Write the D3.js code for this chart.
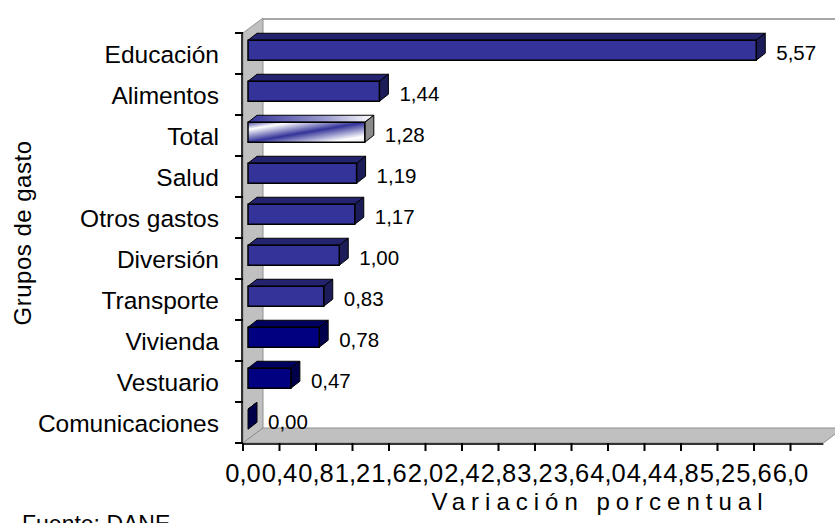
<!doctype html>
<html lang="es">
<head>
<meta charset="utf-8">
<title>Variación porcentual por grupos de gasto</title>
<script src="https://cdnjs.cloudflare.com/ajax/libs/d3/7.8.5/d3.min.js"></script>
<style>
  body { margin: 0; background: #fff; }
  svg { display: block; font-family: "Liberation Sans", Arial, sans-serif; }
</style>
</head>
<body>
<svg id="chart" width="835" height="523"></svg>
<script>
// data
const categories = ["Educación", "Alimentos", "Total", "Salud", "Otros gastos",
                    "Diversión", "Transporte", "Vivienda", "Vestuario", "Comunicaciones"];
const values = [5.57, 1.44, 1.28, 1.19, 1.17, 1.00, 0.83, 0.78, 0.47, 0.00];
const xTicks = [0, 0.4, 0.8, 1.2, 1.6, 2.0, 2.4, 2.8, 3.2, 3.6, 4.0, 4.4, 4.8, 5.2, 5.6, 6.0];
const xTitle = "Variación porcentual";
const yTitle = "Grupos de gasto";
const source = "Fuente: DANE";

const svg = d3.select("#chart");
const fmt = v => d3.format(".1f")(v).replace(".", ",");
const fmtLabel = v => d3.format(".2f")(v).replace(".", ",");

// front plane of the 3d box
const x = d3.scaleLinear().domain([0, 6]).range([243, 790.5]);
const y = d3.scaleBand().domain(categories).range([33, 443]);
const xEnd = x(6.36);
const DX = 20, DY = -15;        // depth of walls
const bx = 5, by = -3.75;       // bar front face offset
const ox = 9, oy = -7;          // bar depth

const pTop = y.range()[0], pBottom = y.range()[1], pLeft = x(0);

// back wall
svg.append("polygon")
  .attr("points", [[pLeft + DX, pTop + DY], [835, pTop + DY], [835, pBottom + DY], [pLeft + DX, pBottom + DY]].join(" "))
  .attr("fill", "#fff");
svg.append("line")
  .attr("x1", pLeft + DX).attr("x2", 835).attr("y1", pTop + DY + 1).attr("y2", pTop + DY + 1)
  .attr("stroke", "#a8a8a8").attr("stroke-width", 2);

// left wall
svg.append("polygon")
  .attr("points", [[pLeft, pTop], [pLeft + DX, pTop + DY], [pLeft + DX, pBottom + DY], [pLeft, pBottom]].join(" "))
  .attr("fill", "#c0c0c0").attr("stroke", "#909090").attr("stroke-width", 1);

// floor
svg.append("polygon")
  .attr("points", [[pLeft, pBottom], [pLeft + DX, pBottom + DY], [xEnd + DX, pBottom + DY], [xEnd, pBottom]].join(" "))
  .attr("fill", "#c0c0c0").attr("stroke", "#909090").attr("stroke-width", 1);

// axis lines
svg.append("line")
  .attr("x1", pLeft - 1).attr("x2", pLeft - 1).attr("y1", pTop).attr("y2", pBottom + 1)
  .attr("stroke", "#333").attr("stroke-width", 2);
svg.append("line")
  .attr("x1", pLeft - 1).attr("x2", xEnd).attr("y1", pBottom + 1).attr("y2", pBottom + 1)
  .attr("stroke", "#333").attr("stroke-width", 2);

// y ticks
const yTickPos = categories.map(c => y(c)).concat([pBottom]);
svg.selectAll(".ytick").data(yTickPos).join("line")
  .attr("x1", pLeft - 8).attr("x2", pLeft).attr("y1", d => d).attr("y2", d => d)
  .attr("stroke", "#000").attr("stroke-width", 2);

// x ticks
svg.selectAll(".xtick").data(xTicks).join("line")
  .attr("x1", d => x(d)).attr("x2", d => x(d)).attr("y1", pBottom).attr("y2", pBottom + 8)
  .attr("stroke", "#000").attr("stroke-width", 2);

svg.selectAll(".xlab").data(xTicks).join("text")
  .attr("x", d => x(d)).attr("y", 482)
  .attr("text-anchor", "middle").attr("font-size", 25.5)
  .text(fmt);

// category labels
svg.selectAll(".ylab").data(categories).join("text")
  .attr("x", 219).attr("y", d => y(d) + y.bandwidth() / 2 + 9)
  .attr("text-anchor", "end").attr("font-size", 24.5)
  .text(d => d);

// gradient for Total
const defs = svg.append("defs");
const g = defs.append("linearGradient").attr("id", "gTotal")
  .attr("x1", "0").attr("y1", "0").attr("x2", "1").attr("y2", "1");
[["0%", "#4a4aa8"], ["18%", "#ffffff"], ["50%", "#333399"], ["85%", "#ffffff"], ["100%", "#e8e8f0"]]
  .forEach(s => g.append("stop").attr("offset", s[0]).attr("stop-color", s[1]));
const gt = defs.append("linearGradient").attr("id", "gTotalTop")
  .attr("x1", "0").attr("y1", "0").attr("x2", "1").attr("y2", "0");
[["0%", "#333399"], ["60%", "#9999cc"], ["100%", "#ffffff"]]
  .forEach(s => gt.append("stop").attr("offset", s[0]).attr("stop-color", s[1]));

function faces(c) {
  if (c === "Total") return { front: "url(#gTotal)", top: "url(#gTotalTop)", side: "#8a8a8a" };
  if (c === "Vivienda" || c === "Vestuario" || c === "Comunicaciones")
    return { front: "#000080", top: "#00005e", side: "#00004a" };
  return { front: "#333399", top: "#232370", side: "#1c1c58" };
}

const h = 20;
const bars = svg.selectAll(".bar").data(categories).join("g").attr("class", "bar");
bars.each(function (c, i) {
  const gr = d3.select(this);
  const f = faces(c);
  const x0 = x(0) + bx, x1 = x(values[i]) + bx;
  const y0 = y(c) + (y.bandwidth() - h) / 2 + by + 0.5, y1 = y0 + h;
  gr.append("polygon")
    .attr("points", [[x0, y0], [x0 + ox, y0 + oy], [x1 + ox, y0 + oy], [x1, y0]].join(" "))
    .attr("fill", f.top).attr("stroke", "#000").attr("stroke-width", 1);
  gr.append("polygon")
    .attr("points", [[x1, y0], [x1 + ox, y0 + oy], [x1 + ox, y1 + oy], [x1, y1]].join(" "))
    .attr("fill", f.side).attr("stroke", "#000").attr("stroke-width", 1);
  if (values[i] > 0) {
    gr.append("rect")
      .attr("x", x0).attr("y", y0).attr("width", x1 - x0).attr("height", h)
      .attr("fill", f.front).attr("stroke", "#000").attr("stroke-width", 1.5);
  }
  gr.append("text")
    .attr("x", x1 + ox + 11).attr("y", y1)
    .attr("font-size", 20.5)
    .text(fmtLabel(values[i]));
});

// titles
svg.append("text")
  .attr("x", 600).attr("y", 510)
  .attr("text-anchor", "middle").attr("font-size", 24).attr("letter-spacing", 6)
  .text(xTitle);
svg.append("text")
  .attr("transform", "translate(31,233) rotate(-90)")
  .attr("text-anchor", "middle").attr("font-size", 24).attr("letter-spacing", 0.5)
  .text(yTitle);
svg.append("text")
  .attr("x", 22).attr("y", 532).attr("font-size", 23)
  .text(source);
</script>
</body>
</html>
